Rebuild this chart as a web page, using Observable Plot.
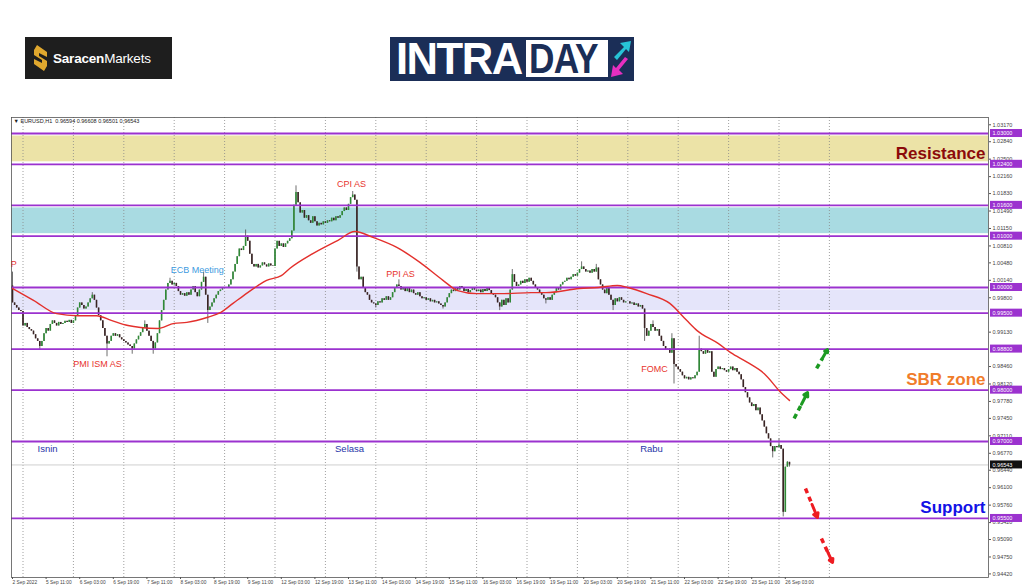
<!DOCTYPE html>
<html><head><meta charset="utf-8">
<script src="https://cdn.jsdelivr.net/npm/d3@7"></script>
<script src="https://cdn.jsdelivr.net/npm/@observablehq/plot@0.6"></script>
<style>
body{margin:0;background:#fff;width:1024px;height:587px;overflow:hidden;font-family:"Liberation Sans",Arial,sans-serif}
#header{position:relative;height:110px;width:1024px}
#saracen{position:absolute;left:25px;top:37px;width:147px;height:42px;background:#1e1e1e;display:flex;align-items:center}
#saracen svg{margin-left:9px;margin-right:6px}
#saracen span{color:#fff;font-size:13.5px;letter-spacing:-0.2px}
#intraday{position:absolute;left:390px;top:37px;width:244px;height:44px;background:#1b2e57}
#intra{position:absolute;left:6px;top:2px;color:#fff;font-weight:bold;font-size:44px;line-height:40px;letter-spacing:-1.5px;transform:scaleX(0.99);transform-origin:left}
#day{position:absolute;left:136px;top:3px;width:82px;height:37px;background:#fff}
#day span{position:absolute;left:3px;top:0px;color:#1b2e57;font-weight:bold;font-size:42px;line-height:37px;letter-spacing:-1px;transform:scaleX(0.84);transform-origin:left;white-space:nowrap}
#icon{position:absolute;left:220px;top:2px}
#chart{height:477px;width:1024px}
</style></head><body>
<div id="header">
  <div id="saracen">
    <svg width="13" height="26" viewBox="0 0 13 26"><polygon points="3,0 13,7 13,12 5,8 5,11 13,16 13,21 10,26 0,19 0,14 8,18 8,15 0,10 0,5" fill="#e0a82e"/></svg>
    <span><b>Saracen</b>Markets</span>
  </div>
  <div id="intraday">
    <div id="intra">INTRA</div>
    <div id="day"><span>DAY</span></div>
    <svg id="icon" width="22" height="40" viewBox="0 0 22 40">
      <polygon points="4,18 14,8 10,4 21,2 19,13 16,10 7,21" fill="#27c3d6"/>
      <polygon points="18,20 9,31 13,35 1,38 3,26 6,29 15,18" fill="#e62fc0"/>
    </svg>
  </div>
</div>
<div id="chart"></div>
<script>
// ---- hourly closes (EURUSD H1), one array per trading day ----
const firstOpen = 1.0003;
const sep02 = [0.9970,0.9965,0.9960,0.9955,0.9953];
const sep05 = [0.9925,0.9930,0.9922,0.9918,0.9915,0.9908,0.9900,0.9895,0.9885,0.9895,0.9910,0.9920,0.9915,0.9928,0.9935,0.9930,0.9925,0.9932,0.9928,0.9930,0.9934,0.9932,0.9936,0.9930];
const sep06 = [0.9935,0.9945,0.9960,0.9970,0.9965,0.9958,0.9962,0.9970,0.9978,0.9985,0.9975,0.9960,0.9945,0.9935,0.9920,0.9905,0.9890,0.9895,0.9905,0.9910,0.9905,0.9908,0.9902,0.9898];
const sep07 = [0.9895,0.9892,0.9888,0.9885,0.9880,0.9890,0.9898,0.9905,0.9912,0.9920,0.9928,0.9915,0.9905,0.9895,0.9880,0.9892,0.9910,0.9935,0.9955,0.9975,0.9995,1.0008,1.0012,1.0005];
const sep08 = [1.0008,1.0002,0.9992,0.9985,0.9988,0.9983,0.9990,0.9985,0.9995,1.0002,0.9990,0.9982,0.9995,1.0010,1.0020,0.9985,0.9955,0.9962,0.9970,0.9978,0.9985,0.9992,0.9995,0.9998];
const sep09 = [1.0000,0.9998,1.0005,1.0015,1.0030,1.0045,1.0060,1.0075,1.0072,1.0080,1.0100,1.0090,1.0065,1.0045,1.0040,1.0045,1.0038,1.0042,1.0048,1.0044,1.0040,1.0046,1.0042,1.0041];
const sep12 = [1.0075,1.0090,1.0080,1.0085,1.0078,1.0085,1.0090,1.0095,1.0110,1.0160,1.0185,1.0165,1.0145,1.0150,1.0135,1.0140,1.0130,1.0125,1.0138,1.0128,1.0120,1.0125,1.0122,1.0128];
const sep13 = [1.0125,1.0130,1.0128,1.0135,1.0130,1.0138,1.0135,1.0140,1.0148,1.0155,1.0150,1.0162,1.0175,1.0180,1.0170,1.0040,1.0015,1.0020,1.0000,0.9990,0.9985,0.9975,0.9970,0.9968];
const sep14 = [0.9965,0.9972,0.9970,0.9978,0.9975,0.9982,0.9975,0.9980,0.9990,0.9998,1.0005,1.0002,0.9995,1.0000,0.9992,0.9998,0.9990,0.9995,0.9988,0.9985,0.9990,0.9982,0.9978,0.9980];
const sep15 = [0.9975,0.9978,0.9972,0.9975,0.9970,0.9972,0.9968,0.9965,0.9962,0.9970,0.9980,0.9988,0.9995,0.9992,1.0000,0.9995,1.0002,0.9998,0.9992,0.9996,0.9990,0.9994,0.9998,0.9995];
const sep16 = [0.9992,0.9995,0.9990,0.9996,0.9992,0.9998,0.9994,0.9988,0.9985,0.9980,0.9970,0.9962,0.9975,0.9965,0.9978,0.9970,0.9995,1.0025,1.0010,1.0002,1.0005,1.0012,1.0008,1.0015];
const sep19 = [1.0010,1.0018,1.0012,1.0005,1.0000,0.9995,0.9990,0.9985,0.9978,0.9975,0.9980,0.9975,0.9985,0.9990,0.9998,0.9995,1.0005,1.0010,1.0012,1.0018,1.0015,1.0020,1.0025,1.0022];
const sep20 = [1.0028,1.0035,1.0040,1.0035,1.0030,1.0032,1.0028,1.0035,1.0030,1.0038,1.0015,1.0005,0.9995,0.9988,0.9998,0.9985,0.9975,0.9965,0.9978,0.9972,0.9980,0.9975,0.9970,0.9972];
const sep21 = [0.9972,0.9968,0.9970,0.9965,0.9968,0.9962,0.9965,0.9958,0.9920,0.9905,0.9915,0.9928,0.9922,0.9915,0.9918,0.9905,0.9895,0.9885,0.9878,0.9880,0.9872,0.9900,0.9850,0.9845];
const sep22 = [0.9840,0.9835,0.9828,0.9822,0.9825,0.9820,0.9824,0.9822,0.9828,0.9835,0.9880,0.9875,0.9870,0.9878,0.9872,0.9875,0.9835,0.9825,0.9840,0.9845,0.9840,0.9842,0.9838,0.9835];
const sep23 = [0.9840,0.9845,0.9838,0.9842,0.9835,0.9830,0.9820,0.9805,0.9795,0.9785,0.9775,0.9768,0.9772,0.9760,0.9765,0.9752,0.9740,0.9728,0.9715,0.9705,0.9690,0.9680,0.9690,0.9688];
const sep26 = [0.9692,0.9685,0.9562,0.9650,0.96594,0.96543];

// notable wicks [bar index, price]
const wickHighs = [[0,1.0030],[38,0.9990],[63,0.9935],[75,1.0018],[91,1.0030],[111,1.0112],[135,1.0198],[162,1.0187],[184,1.0015],[238,1.0035],[271,1.0050],[278,1.0045],[305,0.9935],[314,0.9910],[327,0.9905],[365,0.9705],[369,0.96608]];
const wickLows = [[13,0.9878],[45,0.9865],[57,0.9870],[67,0.9870],[93,0.9930],[164,1.0030],[173,0.9960],[205,0.9958],[232,0.9955],[254,0.9968],[286,0.9955],[301,0.9895],[315,0.9812],[362,0.9668],[367,0.9553],[370,0.96501]];

// moving average
const maBars = [0,10,21,31,40,47,55,61,69,77,83,93,99,105,112,117,121,128,132,143,155,163,172,183,194,205,212,221,234,247,254,270,279,288,293,302,313,321,326,336,342,350,358,366,370];
const maValues = [0.9998,0.9975,0.9949,0.9945,0.9945,0.9936,0.9926,0.9922,0.9920,0.9930,0.9932,0.9942,0.9951,0.9969,0.9990,1.0004,1.0014,1.0023,1.0037,1.0066,1.0092,1.0109,1.0097,1.0078,1.0049,1.0014,0.9994,0.9988,0.9988,0.9990,0.9990,0.9998,1.0000,1.0004,1.0000,0.9988,0.9969,0.9936,0.9916,0.9891,0.9873,0.9854,0.9832,0.9795,0.9780];

// horizontal levels and zones
const levels = [1.03,1.024,1.016,1.01,1.0,0.995,0.988,0.98,0.97,0.955];
const zoneLow = [1.024,1.01,0.995];
const zoneHigh = [1.03,1.016,1.0];
const zoneColors = ["#ece3a7","#a9dbe2","#e5e5fa"];
const currentPrice = 0.96543;

// axis ticks
const priceTicks = [1.03170,1.02840,1.02500,1.02160,1.01830,1.01490,1.01150,1.00810,1.00480,1.00140,0.99800,0.99130,0.98460,0.98120,0.97780,0.97450,0.97110,0.96770,0.96440,0.96100,0.95760,0.95420,0.95090,0.94750,0.94420];
const timeTickBars = [0,16,32,48,64,80,96,112,128,144,160,176,192,208,224,240,256,272,288,304,320,336,352,368];
const timeTickLabels = ["2 Sep 2022","5 Sep 11:00","6 Sep 03:00","6 Sep 19:00","7 Sep 11:00","8 Sep 03:00","8 Sep 19:00","9 Sep 11:00","12 Sep 03:00","12 Sep 19:00","13 Sep 11:00","14 Sep 03:00","14 Sep 19:00","15 Sep 11:00","16 Sep 03:00","16 Sep 19:00","19 Sep 11:00","20 Sep 03:00","20 Sep 19:00","21 Sep 11:00","22 Sep 03:00","22 Sep 19:00","23 Sep 11:00","26 Sep 03:00"];
const dayStartBars = [5,29,53,77,101,125,149,173,197,221,245,269,293,317,341,365,389];

// annotations
const newsLabels = ["P","PMI ISM AS","ECB Meeting","CPI AS","PPI AS","FOMC"];
const newsBars = [0.6,40.5,88,161.4,184.8,305.7];
const newsPrices = [1.00448,0.98500,1.00331,1.02006,1.00253,0.98403];
const dayLabels = ["Isnin","Selasa","Rabu"];
const dayBars = [16.7,160.5,304.3];
const dayPrice = 0.96863;
const zoneLabels = ["Resistance","SBR zone","Support"];
const zoneLabelPrices = [1.0261,0.98208,0.95714];
const arrowX1 = [372.2,382.9,377.6,385.2];
const arrowY1 = [0.97448,0.98422,0.96084,0.95110];
const arrowX2 = [378.6,388.1,383.3,390.5];
const arrowY2 = [0.97954,0.98792,0.95519,0.94643];

// ---- build tables ----
const closes = [sep02,sep05,sep06,sep07,sep08,sep09,sep12,sep13,sep14,sep15,sep16,sep19,sep20,sep21,sep22,sep23,sep26].flat();
const bars = closes.map((c,i)=>{const o = i ? closes[i-1] : firstOpen; return {i,o,c,h:Math.max(o,c),l:Math.min(o,c)};});
wickHighs.forEach(([i,v])=>{bars[i].h = Math.max(bars[i].h,v);});
wickLows.forEach(([i,v])=>{bars[i].l = Math.min(bars[i].l,v);});
const ma = maBars.map((b,i)=>({b,v:maValues[i]}));
const zones = zoneLow.map((lo,i)=>({lo,hi:zoneHigh[i],color:zoneColors[i]}));
const news = newsLabels.map((t,i)=>({t,b:newsBars[i],p:newsPrices[i],color:i===2?"#3d9be0":"#e8342d"}));
const days = dayLabels.map((t,i)=>({t,b:dayBars[i],p:dayPrice}));
const zoneTexts = zoneLabels.map((t,i)=>({t,p:zoneLabelPrices[i],color:["#8b0a0a","#f07c2a","#1212e6"][i]}));
const arrows = arrowX1.map((x1,i)=>{
  const x2 = arrowX2[i], y1 = arrowY1[i], y2 = arrowY2[i];
  return {x1,y1,x2,y2,xm:x1+(x2-x1)*0.55,ym:y1+(y2-y1)*0.55,color:y2>y1?"#1c9a22":"#ee1c22"};
});
const timeLabelMap = new Map(timeTickBars.map((b,i)=>[b,timeTickLabels[i]]));

const chart = Plot.plot({
  width:1024, height:477,
  marginLeft:11, marginRight:36, marginTop:7, marginBottom:10,
  x:{domain:[-0.48,464.76], axis:null},
  y:{domain:[0.94350,1.03312], axis:null},
  color:{type:"identity"},
  style:{background:"#fff", fontFamily:"Liberation Sans, Arial, sans-serif", color:"#333"},
  marks:[
    Plot.rect(zones,{y1:"lo",y2:"hi",fill:"color",insetTop:2.5,insetBottom:2.5}),
    Plot.ruleX(dayStartBars,{stroke:"#888",strokeWidth:0.8,strokeDasharray:"1,2"}),
    Plot.ruleY([currentPrice],{stroke:"#cfcfcf",strokeWidth:1}),
    Plot.ruleX(bars,{x:"i",y1:"l",y2:"h",stroke:"#4a4a4a",strokeWidth:0.8}),
    Plot.ruleX(bars,{x:"i",y1:"o",y2:d=>d.c===d.o?d.o+0.00004:d.c,stroke:d=>d.c>=d.o?"#2f8a36":"#3a2424",strokeWidth:1.6}),
    Plot.ruleY(levels,{stroke:"#9b32cf",strokeWidth:1.8}),
    Plot.line(ma,{x:"b",y:"v",stroke:"#e3302c",strokeWidth:1.4,curve:"monotone-x"}),
    Plot.frame({stroke:"#555",strokeWidth:0.8}),
    // right price axis
    Plot.axisY(priceTicks,{anchor:"right",tickSize:2,tickPadding:2,fontSize:5.5,tickFormat:d=>d.toFixed(5),stroke:"#555",fill:"#444"}),
    Plot.rect(levels,{y1:d=>d-0.00078,y2:d=>d+0.00078,fill:"#9b32cf",insetLeft:979,insetRight:-34}),
    Plot.text(levels,{y:d=>d,frameAnchor:"right",dx:4,textAnchor:"start",text:d=>d.toFixed(5),fill:"#fff",fontSize:5.5}),
    Plot.rect([currentPrice],{y1:d=>d-0.00078,y2:d=>d+0.00078,fill:"#111",insetLeft:979,insetRight:-34}),
    Plot.text([currentPrice],{y:d=>d,frameAnchor:"right",dx:4,textAnchor:"start",text:d=>d.toFixed(5),fill:"#fff",fontSize:5.5}),
    // bottom time axis
    Plot.axisX(timeTickBars,{anchor:"bottom",tickSize:2,tickPadding:1,fontSize:4.8,textAnchor:"start",tickFormat:d=>timeLabelMap.get(d),stroke:"#555",fill:"#444"}),
    // header
    Plot.text(["\u25BC EURUSD,H1  0.96594 0.96608 0.96501 0.96543"],{frameAnchor:"top-left",dx:2,dy:2,fontSize:5.5,fill:"#222"}),
    // annotations
    Plot.text(news,{x:"b",y:"p",text:"t",fill:"color",fontSize:9}),
    Plot.text(days,{x:"b",y:"p",text:"t",fill:"#2835a8",fontSize:9.5}),
    Plot.text(zoneTexts,{y:"p",frameAnchor:"right",dx:-3,textAnchor:"end",text:"t",fill:"color",fontSize:17,fontWeight:"bold"}),
    Plot.link(arrows,{x1:"x1",y1:"y1",x2:"xm",y2:"ym",stroke:"color",strokeWidth:3.5,strokeDasharray:"5,4"}),
    Plot.arrow(arrows,{x1:"xm",y1:"ym",x2:"x2",y2:"y2",stroke:"color",strokeWidth:3,headLength:10})
  ]
});
document.getElementById("chart").appendChild(chart);
</script>
</body></html>
